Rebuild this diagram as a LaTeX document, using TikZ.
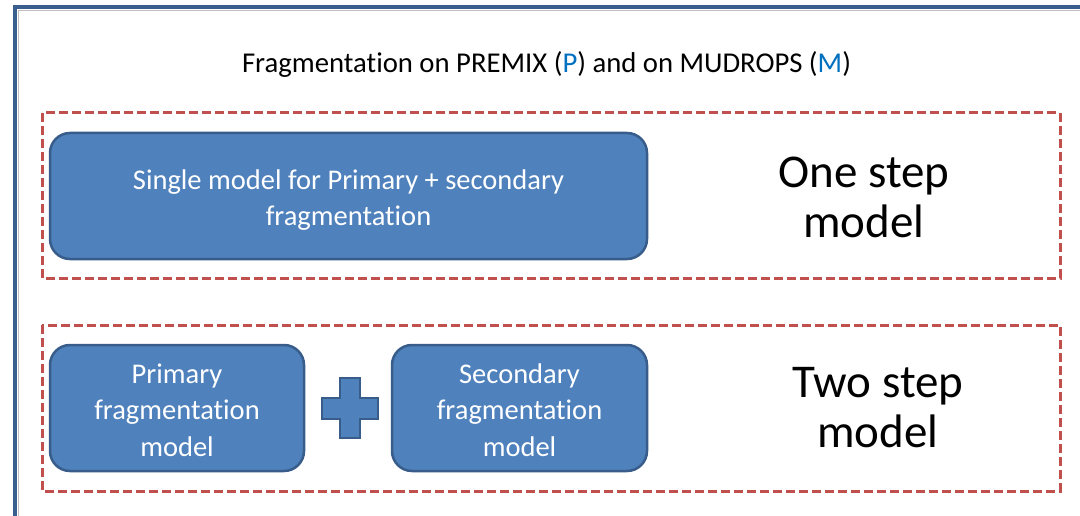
\documentclass[tikz,border=0pt]{standalone}
\usepackage{fontspec}
\setmainfont{Carlito}[Ligatures={NoCommon}]
\definecolor{boxfill}{HTML}{4F81BD}
\definecolor{boxline}{HTML}{385D8A}
\definecolor{dashred}{HTML}{C0504D}
\definecolor{frameblue}{HTML}{3A5F8F}
\definecolor{letterblue}{HTML}{0070C0}
\tikzset{
  x=1pt,y=-1pt,
  bluebox/.style={draw=boxline,fill=boxfill,line width=2.5pt,rounded corners=20pt,
    text=white,align=center,font=\fontsize{28.5}{36}\selectfont,inner sep=0pt},
  groupbox/.style={draw=dashred,line width=3pt,dash pattern=on 9pt off 4pt},
  biglabel/.style={align=center,font=\fontsize{47}{50}\selectfont},
}
\begin{document}
\begin{tikzpicture}
\useasboundingbox (0,0) rectangle (1080,516);
\fill[white] (0,0) rectangle (1080,516);
% outer frame
\draw[gray!50,line width=1.2pt] (18.5,600) -- (18.5,10.5) -- (1200,10.5);
\draw[frameblue,line width=3.5pt] (15,600) -- (15,7) -- (1200,7);
% title
\node (title) at (546.5,64) {\fontsize{28.7}{30}\selectfont Fragmentation on PREMIX (\textcolor{letterblue}{P}) and on MUDROPS (\textcolor{letterblue}{M})};
% group boxes
\draw[groupbox] (42,113) rectangle (1060,278);
\draw[groupbox] (42,325) rectangle (1060,491);
% boxes
\node[bluebox,minimum width=597pt,minimum height=126pt] (single) at (348.5,196) {};
\node[text=white,align=center,font=\fontsize{28.5}{35.5}\selectfont] (singletext) at (348.5,200) {Single model for Primary + secondary\\fragmentation};
\node[bluebox,minimum width=254pt,minimum height=126pt] (primary) at (177,408) {};
\node[text=white,align=center,font=\fontsize{28.5}{36.5}\selectfont] (primarytext) at (177,410) {Primary\\fragmentation\\model};
\node[bluebox,minimum width=255pt,minimum height=126pt] (secondary) at (519.5,408) {};
\node[text=white,align=center,font=\fontsize{28.5}{36.5}\selectfont] (secondarytext) at (519.5,410) {Secondary\\fragmentation\\model};
% plus sign
\draw[boxline,fill=boxfill,line width=2pt] (340,378) -- (360,378) -- (360,398) -- (378,398) -- (378,419) -- (360,419) -- (360,438) -- (340,438) -- (340,419) -- (322,419) -- (322,398) -- (340,398) -- cycle;
% labels
\node[biglabel] (one) at (864,197) {One step\\model};
\node[biglabel] (two) at (878,408) {Two step\\model};
\end{tikzpicture}
\end{document}
